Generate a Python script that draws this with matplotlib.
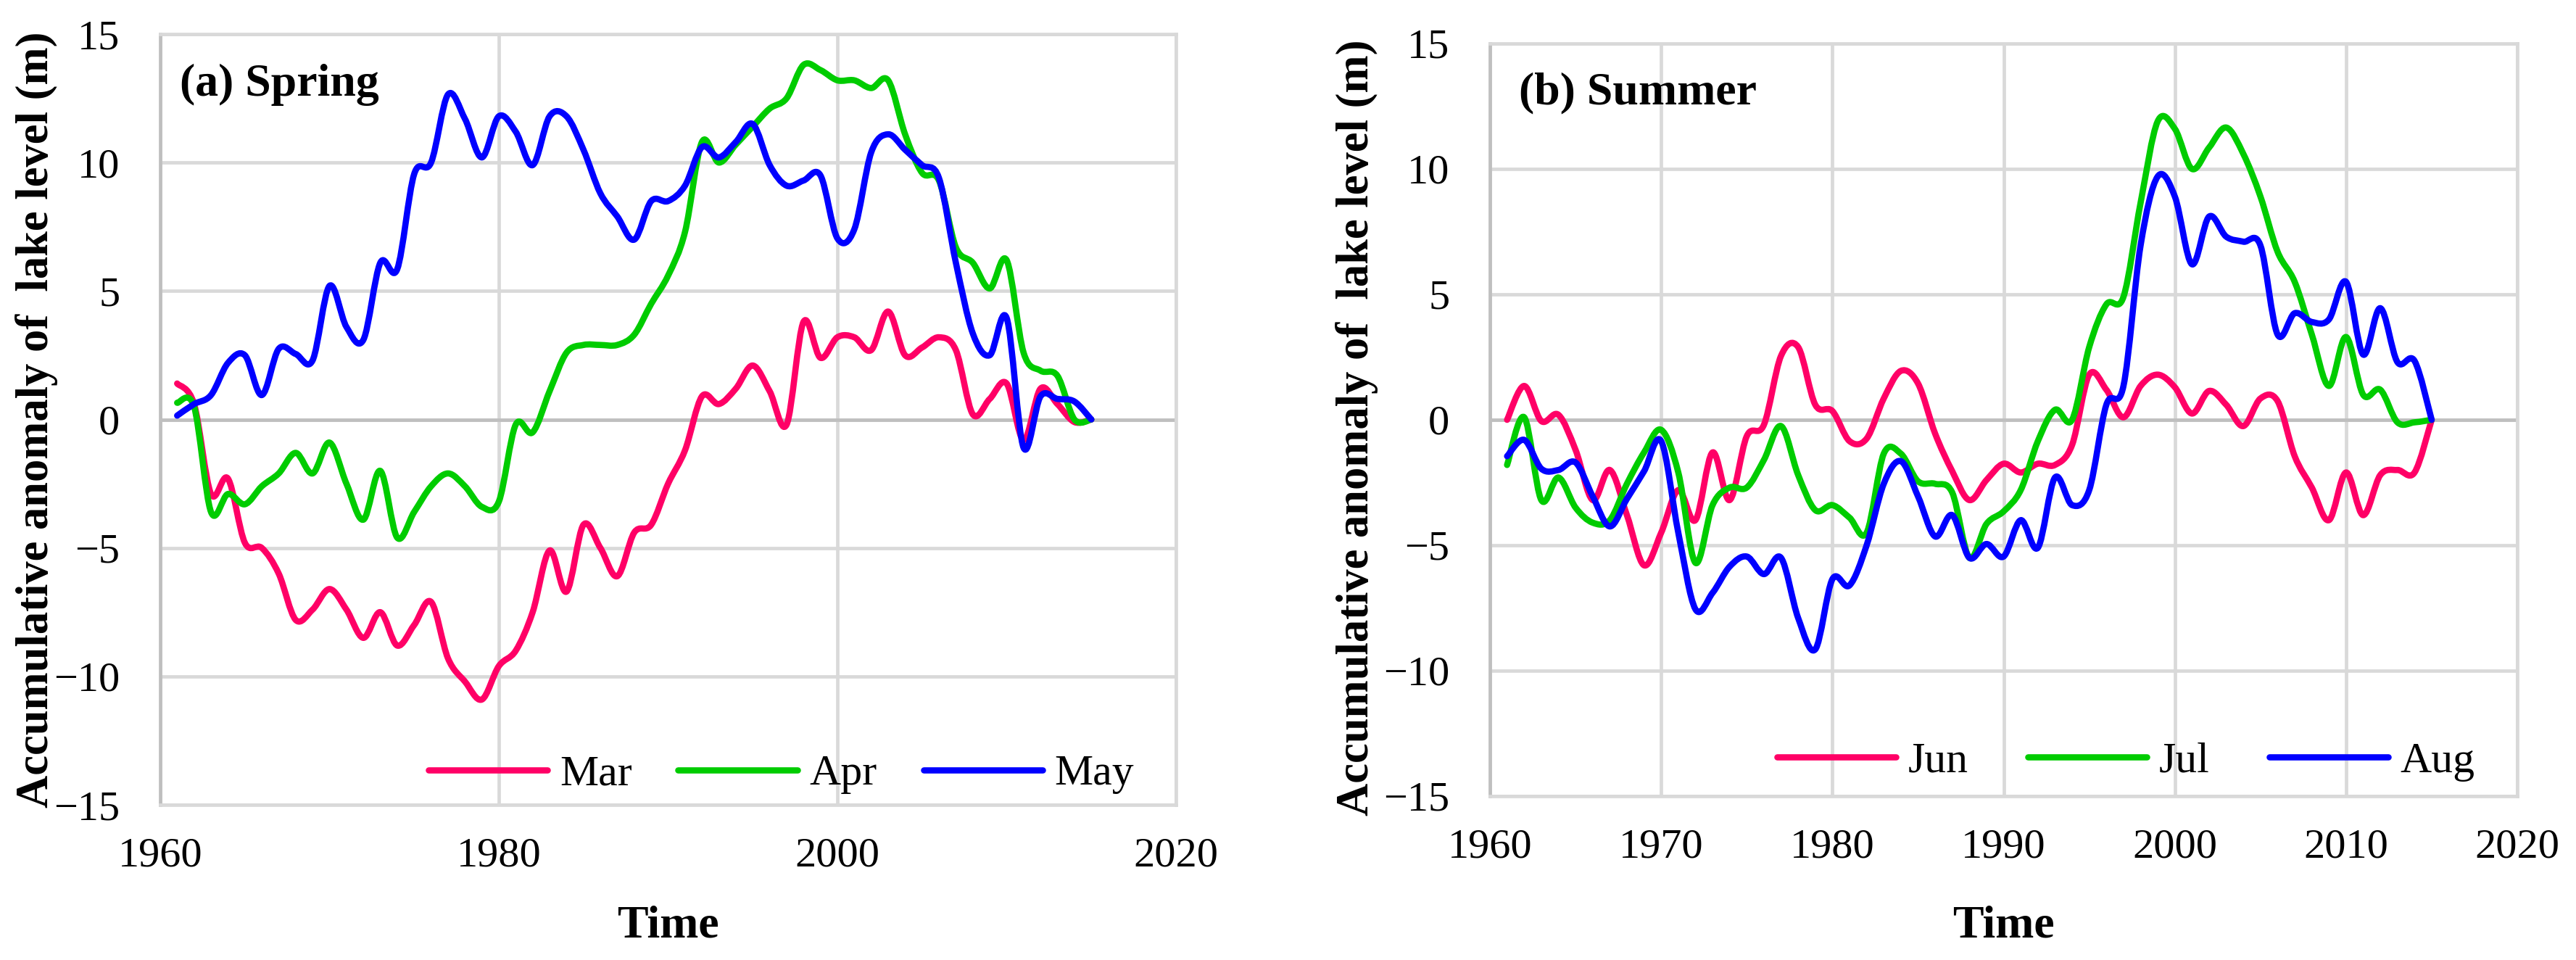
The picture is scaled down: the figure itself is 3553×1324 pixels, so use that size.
import numpy as np
import matplotlib
matplotlib.use("Agg")
import matplotlib.pyplot as plt
from matplotlib.path import Path
from matplotlib.patches import PathPatch
from matplotlib.lines import Line2D

plt.rcParams['font.family'] = ['Liberation Serif', 'DejaVu Serif']

# Years (annual values 1961-2015)
years = list(range(1961, 2016))

# (a) Spring
mar = [1.4, 0.6, -2.9, -2.3, -4.8, -5.0, -6.0, -7.8, -7.4, -6.6,
       -7.4, -8.5, -7.5, -8.8, -8.0, -7.1, -9.3, -10.2, -10.9, -9.6,
       -9.0, -7.5, -5.1, -6.7, -4.1, -5.0, -6.1, -4.4, -4.1, -2.5,
       -1.2, 0.9, 0.6, 1.2, 2.1, 1.1, -0.2, 3.8, 2.4, 3.2,
       3.2, 2.7, 4.2, 2.5, 2.8, 3.2, 2.7, 0.2, 0.8, 1.4,
       -0.8, 1.2, 0.6, -0.1, 0.0]
apr = [0.65, 0.5, -3.6, -2.9, -3.3, -2.6, -2.1, -1.3, -2.1, -0.9,
       -2.5, -3.9, -2.0, -4.6, -3.6, -2.6, -2.1, -2.6, -3.4, -3.2,
       -0.2, -0.5, 1.1, 2.6, 2.9, 2.9, 2.9, 3.3, 4.5, 5.6,
       7.3, 10.8, 10.0, 10.7, 11.4, 12.1, 12.5, 13.8, 13.6, 13.2,
       13.2, 12.9, 13.2, 11.1, 9.6, 9.3, 6.7, 6.1, 5.1, 6.2,
       2.6, 1.9, 1.7, 0.0, 0.0]
may = [0.15, 0.6, 0.95, 2.2, 2.5, 0.95, 2.75, 2.55, 2.3, 5.2,
       3.6, 3.1, 6.1, 5.85, 9.55, 10.0, 12.65, 11.7, 10.2, 11.8,
       11.2, 9.9, 11.8, 11.8, 10.5, 8.8, 7.9, 7.0, 8.5, 8.5,
       9.1, 10.6, 10.2, 10.8, 11.5, 9.9, 9.1, 9.3, 9.5, 7.05,
       7.4, 10.4, 11.1, 10.5, 9.9, 9.4, 6.1, 3.35, 2.5, 3.95,
       -1.1, 0.9, 0.8, 0.7, 0.0]

# (b) Summer
jun = [0.0, 1.35, -0.05, 0.2, -1.2, -3.2, -2.0, -3.8, -5.8, -4.5,
       -2.8, -4.0, -1.3, -3.2, -0.65, -0.2, 2.55, 2.9, 0.6, 0.35,
       -0.85, -0.75, 0.85, 1.95, 1.45, -0.55, -2.05, -3.2, -2.4, -1.75,
       -2.1, -1.75, -1.8, -1.0, 1.8, 1.2, 0.1, 1.35, 1.8, 1.3,
       0.25, 1.15, 0.6, -0.25, 0.85, 0.75, -1.45, -2.7, -4.0, -2.1,
       -3.8, -2.2, -2.0, -2.1, 0.0]
jul = [-1.8, 0.1, -3.2, -2.3, -3.5, -4.1, -4.0, -2.55, -1.3, -0.4,
       -2.1, -5.7, -3.4, -2.7, -2.7, -1.6, -0.25, -2.2, -3.6, -3.4,
       -3.9, -4.5, -1.35, -1.35, -2.45, -2.55, -2.9, -5.5, -4.15, -3.65,
       -2.8, -0.85, 0.4, 0.0, 2.9, 4.6, 4.9, 8.65, 11.9, 11.6,
       10.0, 10.85, 11.65, 10.6, 8.9, 6.7, 5.5, 3.4, 1.35, 3.3,
       1.0, 1.2, -0.1, -0.1, 0.0]
aug = [-1.45, -0.8, -1.95, -2.0, -1.7, -3.05, -4.25, -3.15, -2.05, -0.85,
       -4.5, -7.55, -6.9, -5.85, -5.45, -6.15, -5.5, -7.9, -9.15, -6.35,
       -6.6, -5.0, -2.55, -1.65, -3.05, -4.65, -3.8, -5.5, -4.95, -5.45,
       -4.0, -5.1, -2.3, -3.4, -2.8, 0.6, 1.35, 6.95, 9.7, 8.9,
       6.2, 8.1, 7.3, 7.1, 6.95, 3.4, 4.25, 3.9, 4.0, 5.5,
       2.6, 4.45, 2.3, 2.35, 0.0]

pink = '#FF0066'
green = '#00CC00'
blue = '#0000FF'
grid_c = '#D9D9D9'
axis_c = '#BFBFBF'


def smooth_path(x, y):
    # Catmull-Rom style bezier through the points (like Excel "smoothed line")
    x = np.asarray(x, float)
    y = np.asarray(y, float)
    n = len(x)
    verts = [(x[0], y[0])]
    codes = [Path.MOVETO]
    for i in range(n - 1):
        i0 = max(i - 1, 0)
        i3 = min(i + 2, n - 1)
        c1 = (x[i] + (x[i + 1] - x[i0]) / 6, y[i] + (y[i + 1] - y[i0]) / 6)
        c2 = (x[i + 1] - (x[i3] - x[i]) / 6, y[i + 1] - (y[i3] - y[i]) / 6)
        verts += [c1, c2, (x[i + 1], y[i + 1])]
        codes += [Path.CURVE4] * 3
    return Path(verts, codes)


def panel(ax, series, labels, xticks, title, title_x, leg_x, leg_y, colspace):
    ax.set_xlim(1960, 2020)
    ax.set_ylim(-15, 15)
    ax.set_xticks(xticks)
    ax.set_yticks(range(-15, 16, 5))
    ax.grid(True, color=grid_c, linewidth=3.4, zorder=0)
    ax.set_axisbelow(True)
    ax.axhline(0, color=axis_c, linewidth=3.4, zorder=1)
    for s in ['top', 'right', 'bottom']:
        ax.spines[s].set_color(grid_c)
        ax.spines[s].set_linewidth(3.4)
    ax.spines['left'].set_color(axis_c)
    ax.spines['left'].set_linewidth(3.4)
    ax.tick_params(length=0, labelsize=42, pad=32)
    ax.tick_params(axis='y', pad=40)

    handles = []
    for vals, lab, col in zip(series, labels, [pink, green, blue]):
        ax.add_patch(PathPatch(smooth_path(years, vals), fill=False,
                               edgecolor=col, linewidth=6.2, zorder=3,
                               capstyle='round', joinstyle='round'))
        handles.append(Line2D([], [], color=col, linewidth=6.2,
                              solid_capstyle='round'))

    ax.text(title_x, 0.934, title, transform=ax.transAxes, fontsize=46,
            fontweight='bold', va='center', ha='left')
    ax.legend(handles, labels, ncol=3, frameon=False, fontsize=43,
              loc='center left', bbox_to_anchor=(leg_x, leg_y),
              handlelength=2.75, handletextpad=0.28, columnspacing=colspace,
              borderpad=0, borderaxespad=0)
    ax.set_xlabel("Time", fontsize=46, fontweight='bold')
    ax.set_ylabel("Accumulative anomaly of  lake level (m)", fontsize=45,
                  fontweight='bold')


fig = plt.figure(figsize=(35.53, 13.24), dpi=100)
ax1 = fig.add_axes([0.0622, 0.1616, 0.3943, 0.8029])
ax2 = fig.add_axes([0.5784, 0.1707, 0.3988, 0.7840])

panel(ax1, [mar, apr, may], ['Mar', 'Apr', 'May'], [1960, 1980, 2000, 2020],
      "(a) Spring", 0.019, 0.264, 0.0395, 1.07)
panel(ax2, [jun, jul, aug], ['Jun', 'Jul', 'Aug'], range(1960, 2021, 10),
      "(b) Summer", 0.028, 0.2795, 0.046, 1.37)

ax1.xaxis.set_label_coords(0.5, -0.13)
ax2.xaxis.set_label_coords(0.5, -0.145)
ax1.yaxis.set_label_coords(-0.1006, 0.5)
ax2.yaxis.set_label_coords(-0.109, 0.49)

fig.savefig("out.png", dpi=100)
